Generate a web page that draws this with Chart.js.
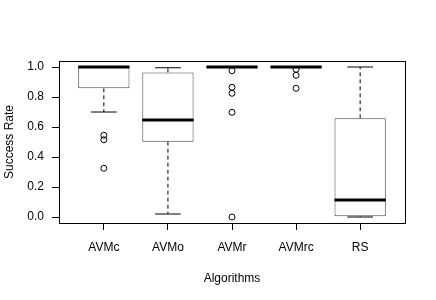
<!DOCTYPE html>
<html>
<head>
<meta charset="utf-8">
<script src="https://cdn.jsdelivr.net/npm/chart.js@4"></script>
<style>
  html, body { margin: 0; padding: 0; background: #fff; }
  #wrap { width: 436px; height: 300px; }
</style>
</head>
<body>
<div id="wrap"><canvas id="boxChart" width="436" height="300"></canvas></div>
<script>
var labels = ['AVMc', 'AVMo', 'AVMr', 'AVMrc', 'RS'];
var whiskerLow = [0.70, 0.02, 1.0, 1.0, 0.0];
var q1 = [0.858, 0.502, 1.0, 1.0, 0.005];
var median = [1.0, 0.647, 1.0, 1.0, 0.113];
var q3 = [1.0, 0.964, 1.0, 1.0, 0.658];
var whiskerHigh = [1.0, 0.995, 1.0, 1.0, 1.0];
var outliers = [
    [0.545, 0.515, 0.325],
    [],
    [0.975, 0.865, 0.825, 0.698, 0.0],
    [0.985, 0.945, 0.858],
    []
];
var yTicks = [0, 0.2, 0.4, 0.6, 0.8, 1.0];

var fontFamily = '"Liberation Sans", Arial, Helvetica, sans-serif';

var boxData = labels.map(function(l, i) { return { x: i + 1, y: [q1[i], q3[i]] }; });
var outlierData = [];
outliers.forEach(function(list, i) {
    list.forEach(function(v) { outlierData.push({ x: i + 1, y: v }); });
});

// whiskers, staples, medians and the frame, placed with the chart's scales
var boxExtras = {
    id: 'boxExtras',
    afterDatasetsDraw: function(chart) {
        var ctx = chart.ctx;
        var xs = chart.scales.x;
        var ys = chart.scales.y;
        var area = chart.chartArea;
        ctx.save();
        labels.forEach(function(l, i) {
            var c = xs.getPixelForValue(i + 1);
            var halfBox = xs.getPixelForValue(i + 1.4) - c;
            var halfCap = halfBox / 2;
            var yq1 = ys.getPixelForValue(q1[i]);
            var yq3 = ys.getPixelForValue(q3[i]);
            var ylo = ys.getPixelForValue(whiskerLow[i]);
            var yhi = ys.getPixelForValue(whiskerHigh[i]);
            var ymed = ys.getPixelForValue(median[i]);

            ctx.strokeStyle = '#000';
            ctx.lineWidth = 1;
            ctx.setLineDash([4, 3]);
            ctx.beginPath();
            ctx.moveTo(c, yq1); ctx.lineTo(c, ylo);
            ctx.moveTo(c, yq3); ctx.lineTo(c, yhi);
            ctx.stroke();
            ctx.setLineDash([]);

            ctx.beginPath();
            ctx.moveTo(c - halfCap, ylo); ctx.lineTo(c + halfCap, ylo);
            ctx.moveTo(c - halfCap, yhi); ctx.lineTo(c + halfCap, yhi);
            ctx.stroke();

            ctx.lineWidth = 3;
            ctx.beginPath();
            ctx.moveTo(c - halfBox, ymed); ctx.lineTo(c + halfBox, ymed);
            ctx.stroke();
        });
        ctx.lineWidth = 1;
        ctx.strokeStyle = '#000';
        ctx.strokeRect(Math.round(area.left) + 0.5, Math.round(area.top) + 0.5,
            Math.round(area.right - area.left), Math.round(area.bottom - area.top));
        ctx.restore();
    }
};

new Chart(document.getElementById('boxChart').getContext('2d'), {
    type: 'bar',
    data: {
        datasets: [{
            type: 'bar',
            data: boxData,
            backgroundColor: '#ffffff',
            borderColor: '#444',
            borderWidth: 1,
            borderSkipped: false,
            barPercentage: 0.8,
            categoryPercentage: 1.0
        }, {
            type: 'scatter',
            data: outlierData,
            pointStyle: 'circle',
            pointRadius: 3,
            pointBorderWidth: 1,
            pointBorderColor: '#000',
            pointBackgroundColor: 'rgba(0,0,0,0)'
        }]
    },
    options: {
        responsive: false,
        animation: false,
        layout: { padding: { top: 61, right: 31, bottom: 0, left: 0 } },
        plugins: { legend: { display: false }, tooltip: { enabled: false } },
        scales: {
            x: {
                type: 'linear',
                offset: false,
                min: 0.3,
                max: 5.7,
                afterFit: function(scale) { scale.height = 77; },
                afterBuildTicks: function(scale) {
                    scale.ticks = labels.map(function(l, i) { return { value: i + 1 }; });
                },
                ticks: {
                    color: '#000',
                    padding: 10,
                    maxRotation: 0,
                    autoSkip: false,
                    font: { family: fontFamily, size: 12 },
                    callback: function(v) { return labels[Math.round(v) - 1]; }
                },
                grid: { offset: false, drawOnChartArea: false, tickLength: 7, color: '#000' },
                border: { display: false },
                title: {
                    display: true,
                    text: 'Algorithms',
                    color: '#000',
                    font: { family: fontFamily, size: 12 },
                    padding: { top: 0, bottom: 14 }
                }
            },
            y: {
                min: -0.04,
                max: 1.04,
                afterFit: function(scale) { scale.width = 59; },
                afterBuildTicks: function(scale) {
                    scale.ticks = yTicks.map(function(v) { return { value: v }; });
                },
                ticks: {
                    color: '#000',
                    padding: 8,
                    font: { family: fontFamily, size: 12 },
                    callback: function(v) { return Number(v).toFixed(1); }
                },
                grid: { drawOnChartArea: false, tickLength: 7, color: '#000' },
                border: { display: false },
                title: {
                    display: true,
                    text: 'Success Rate',
                    color: '#000',
                    font: { family: fontFamily, size: 12 },
                    padding: { top: 2, bottom: 0 }
                }
            }
        }
    },
    plugins: [boxExtras]
});
</script>
</body>
</html>
